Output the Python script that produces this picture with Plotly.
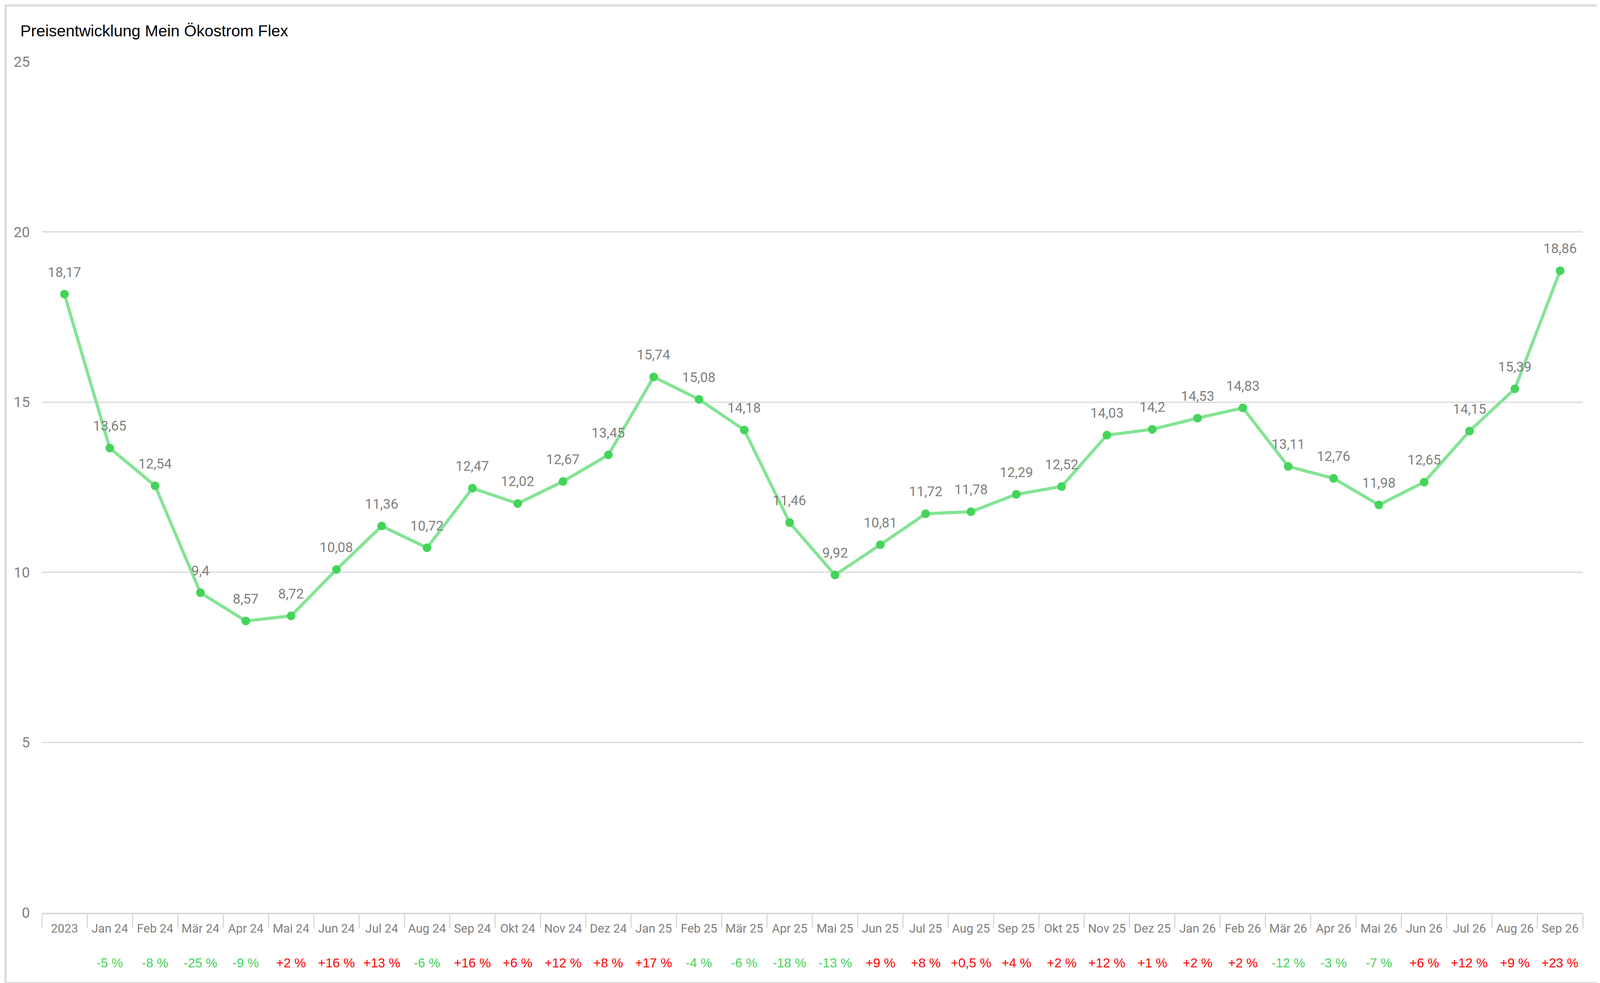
import plotly.graph_objects as go

# Monatswerte (ct/kWh)
monate = [
    '2023', 'Jan 24', 'Feb 24', 'Mär 24', 'Apr 24', 'Mai 24', 'Jun 24', 'Jul 24',
    'Aug 24', 'Sep 24', 'Okt 24', 'Nov 24', 'Dez 24', 'Jan 25', 'Feb 25', 'Mär 25',
    'Apr 25', 'Mai 25', 'Jun 25', 'Jul 25', 'Aug 25', 'Sep 25', 'Okt 25', 'Nov 25',
    'Dez 25', 'Jan 26', 'Feb 26', 'Mär 26', 'Apr 26', 'Mai 26', 'Jun 26', 'Jul 26',
    'Aug 26', 'Sep 26'
]

preise = [
    18.17, 13.65, 12.54, 9.4, 8.57, 8.72, 10.08, 11.36,
    10.72, 12.47, 12.02, 12.67, 13.45, 15.74, 15.08, 14.18,
    11.46, 9.92, 10.81, 11.72, 11.78, 12.29, 12.52, 14.03,
    14.2, 14.53, 14.83, 13.11, 12.76, 11.98, 12.65, 14.15,
    15.39, 18.86
]

# Veränderung (Text unter der Achse)
veraenderung = [
    '', '-5 %', '-8 %', '-25 %', '-9 %', '+2 %', '+16 %', '+13 %',
    '-6 %', '+16 %', '+6 %', '+12 %', '+8 %', '+17 %', '-4 %', '-6 %',
    '-18 %', '-13 %', '+9 %', '+8 %', '+0,5 %', '+4 %', '+2 %', '+12 %',
    '+1 %', '+2 %', '+2 %', '-12 %', '-3 %', '-7 %', '+6 %', '+12 %',
    '+9 %', '+23 %'
]

y_ticks = [0, 5, 10, 15, 20, 25]

# Browserfenster ist höchstens 4096 px breit -> horizontal skalieren
W, H = 4096, 2516
sx = W / 5582
ml, mr, mt, mb = round(135 * sx), round(71 * sx), 150, 188
pw, ph = W - ml - mr, H - mt - mb

grau = '#7f7f7f'
linie = '#d9d9d9'
schmal = 'Liberation Sans Narrow, Roboto, sans-serif'
arial = 'Liberation Sans, Arial, sans-serif'

fig = go.Figure()

fig.add_trace(go.Scatter(
    x=monate,
    y=preise,
    mode='lines+markers',
    line=dict(color='#84e494', width=8),
    marker=dict(color='#44d45a', size=22),
    cliponaxis=False,
    showlegend=False,
))

# Datenbeschriftung über den Punkten (x als Kategorie-Index, sonst wird '2023' als Zahl gelesen)
for i, v in enumerate(preise):
    fig.add_annotation(
        x=i, y=v, xref='x', yref='y',
        text=str(v).replace('.', ','),
        showarrow=False, yanchor='middle', yshift=56,
        font=dict(size=35, color=grau, family=schmal),
    )

# Prozentzeile unter den Monatsnamen
for i, t in enumerate(veraenderung):
    if not t:
        continue
    farbe = '#44d45a' if t.startswith('-') else '#ff0000'
    fig.add_annotation(
        x=i, y=-(2456 - (H - mb)) / ph,
        xref='x', yref='paper',
        text=t, showarrow=False,
        yanchor='middle',
        font=dict(size=33, color=farbe, family=arial),
    )

# Rahmen um das Diagramm
fig.add_shape(
    type='rect', xref='paper', yref='paper',
    x0=(6 - ml) / pw, x1=(W - 4 - ml) / pw,
    y0=-(2508 - (H - mb)) / ph, y1=1 + (mt - 6) / ph,
    line=dict(color=linie, width=5),
    layer='below',
)

fig.update_layout(
    width=W,
    height=H,
    margin=dict(l=ml, r=mr, t=mt, b=mb),
    paper_bgcolor='white',
    plot_bgcolor='white',
    title=dict(
        text='Preisentwicklung Mein Ökostrom Flex',
        x=44 / W, xanchor='left',
        y=1 - 71 / H, yanchor='middle',
        xref='container', yref='container',
        font=dict(size=41, color='black', family=arial),
    ),
    xaxis=dict(
        type='category',
        range=[-0.5, len(monate) - 0.5],
        tickson='boundaries',
        tickangle=0,
        ticks='outside',
        ticklen=36,
        tickwidth=3,
        tickcolor=linie,
        ticklabelstandoff=10,
        showline=True,
        linecolor=linie,
        linewidth=4,
        showgrid=False,
        tickfont=dict(size=31, color=grau, family=schmal),
    ),
    yaxis=dict(
        range=[0, 25],
        tickvals=y_ticks,
        showgrid=True,
        gridcolor=linie,
        gridwidth=3,
        zeroline=False,
        ticks='outside',
        ticklen=22,
        tickcolor='rgba(0,0,0,0)',
        tickfont=dict(size=37, color=grau, family=schmal),
    ),
)

fig.write_html('out.html')
